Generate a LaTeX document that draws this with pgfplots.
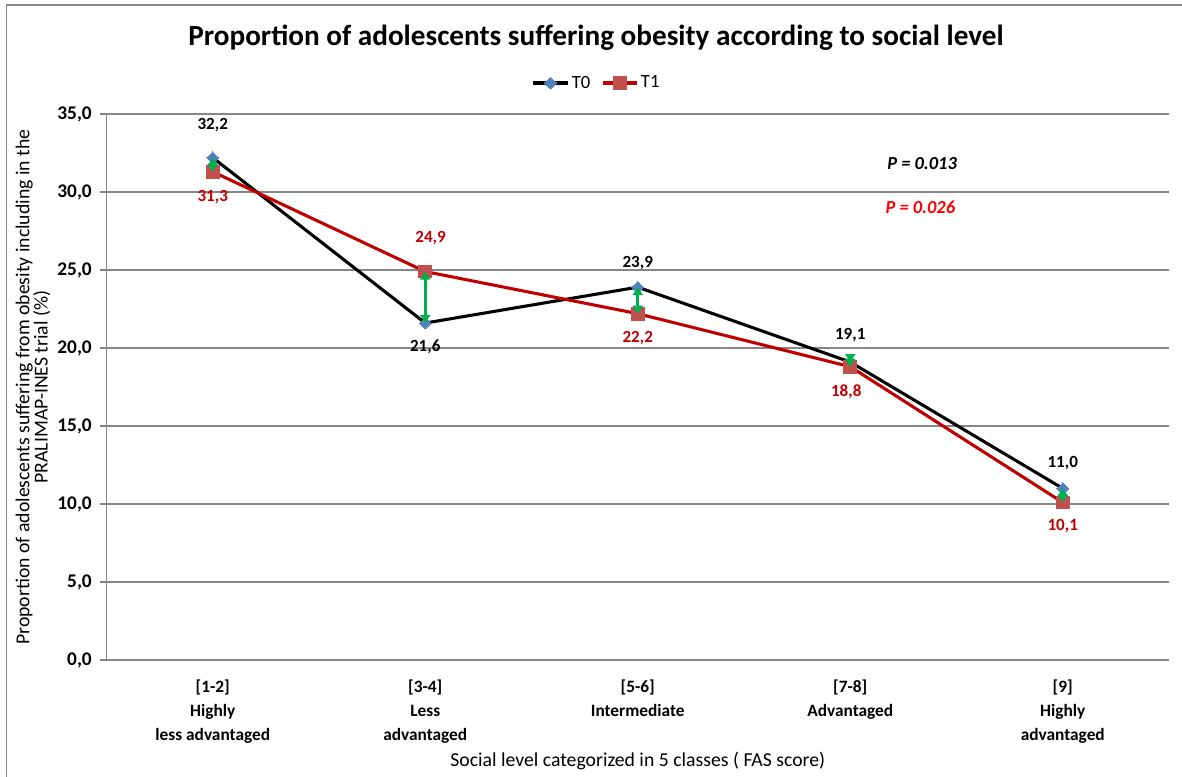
\documentclass[border=0pt]{standalone}
\usepackage{fontspec}
\setmainfont{Carlito}
\usepackage{pgfplots}
\pgfplotsset{compat=1.18}
\usetikzlibrary{arrows.meta}
\definecolor{gridgray}{HTML}{868686}
\definecolor{tzero}{HTML}{4F81BD}
\definecolor{tone}{HTML}{C0504D}
\definecolor{darkred}{HTML}{C00000}
\definecolor{brightred}{HTML}{FF0000}
\definecolor{arrowgreen}{HTML}{00B050}
\tikzset{garrow/.style={arrowgreen, line width=2pt, {Triangle[length=6pt,width=7.5pt]}-{Triangle[length=6pt,width=7.5pt]}},
  lb/.style={font=\bfseries\fontsize{12.8}{14}\selectfont, anchor=center}}

\pgfplotstableread{
x y
0 32.2
1 21.6
2 23.9
3 19.1
4 11.0
}\tzerodata
\pgfplotstableread{
x y
0 31.3
1 24.9
2 22.2
3 18.8
4 10.1
}\tonedata

\begin{document}
\begin{tikzpicture}
\useasboundingbox (0,0) rectangle (886.5pt,582pt);
\draw[gridgray, line width=1.1pt] (5pt,-2pt) -- (5pt,578.25pt) -- (890pt,578.25pt);
\node[font=\bfseries\fontsize{21.9}{25}\selectfont, anchor=center] at (447pt,553.5pt)
  {Proportion of adolescents suffering obesity according to social level};
\begin{axis}[
  at={(79.875pt,87pt)}, anchor=south west,
  scale only axis, width=796.875pt, height=409.5pt,
  xmin=-0.5, xmax=4.5, ymin=0, ymax=35,
  axis x line*=bottom, axis y line*=left,
  axis line style={gridgray, line width=1.1pt, -},
  xtick={0,1,2,3,4},
  xticklabels={{[1-2]\\Highly\\less advantaged},{[3-4]\\Less\\advantaged},{[5-6]\\Intermediate},{[7-8]\\Advantaged},{[9]\\Highly\\advantaged}},
  xtick style={draw=none},
  xticklabel style={align=center, font=\bfseries\fontsize{13}{18}\selectfont, anchor=north, yshift=-7pt},
  ytick={0,5,...,35},
  tick align=outside,
  ytick style={gridgray, line width=1.1pt},
  major tick length=4.5pt,
  yticklabel style={font=\bfseries\fontsize{14.5}{16}\selectfont, xshift=-3pt},
  /pgf/number format/.cd, fixed, fixed zerofill, precision=1, use comma, assume math mode=true,
  /pgfplots/.cd,
  ymajorgrids, grid style={gridgray, line width=1.1pt},
  ylabel={Proportion of adolescents suffering from obesity including in the\\PRALIMAP-INES trial (\%)},
  ylabel style={at={(axis description cs:-0.0692,0.5)}, anchor=center, align=center, font=\fontsize{14.8}{13.8}\selectfont},
  xlabel={Social level categorized in 5 classes ( FAS score)},
  xlabel style={at={(axis description cs:0.5,-0.185)}, anchor=center, font=\fontsize{14.8}{16}\selectfont},
  legend style={at={(0.4617,1.0568)}, anchor=center, draw=none, fill=none, legend columns=2,
    font=\fontsize{14}{16}\selectfont, /tikz/every even column/.append style={column sep=6pt}},
  legend image code/.code={\draw[mark repeat=2, mark phase=2, #1] plot coordinates {(0cm,0cm) (0.45cm,0cm) (0.9cm,0cm)};},
  clip=false,
]
\addplot[black, line width=2.3pt, mark=square*, mark size=3.1pt,
  mark options={fill=tzero, draw=tzero, rotate=45, line width=0pt}] table[x=x,y=y] {\tzerodata};
\addlegendentry{T0}
\addplot[darkred, line width=2.3pt, mark=square*, mark size=4.8pt,
  mark options={fill=tone, draw=tone, line width=0pt}] table[x=x,y=y] {\tonedata};
\addlegendentry{T1}

\coordinate (a0) at (axis cs:0,32.2); \coordinate (b0) at (axis cs:0,31.3);
\coordinate (a1) at (axis cs:1,21.6); \coordinate (b1) at (axis cs:1,24.9);
\coordinate (a2) at (axis cs:2,23.9); \coordinate (b2) at (axis cs:2,22.2);
\coordinate (a3) at (axis cs:3,19.1); \coordinate (b3) at (axis cs:3,18.8);
\coordinate (a4) at (axis cs:4,11.0); \coordinate (b4) at (axis cs:4,10.1);

\node[lb, black, yshift=24.75pt] at (axis cs:0,32.2) {32,2};
\node[lb, black, yshift=-18pt] at (axis cs:1,21.6) {21,6};
\node[lb, black, yshift=18pt] at (axis cs:2,23.9) {23,9};
\node[lb, black, yshift=20pt] at (axis cs:3,19.1) {19,1};
\node[lb, black, yshift=19pt] at (axis cs:4,11.0) {11,0};
\node[lb, darkred, yshift=-19pt] at (axis cs:0,31.3) {31,3};
\node[lb, darkred, yshift=25pt, xshift=4pt] at (axis cs:1,24.9) {24,9};
\node[lb, darkred, yshift=-18pt] at (axis cs:2,22.2) {22,2};
\node[lb, darkred, yshift=-19pt, xshift=-3pt] at (axis cs:3,18.8) {18,8};
\node[lb, darkred, yshift=-18pt] at (axis cs:4,10.1) {10,1};

\node[font=\bfseries\itshape\fontsize{13.8}{15}\selectfont, black] at (axis cs:3.338,31.8) {P = 0.013};
\node[font=\bfseries\itshape\fontsize{13.8}{15}\selectfont, brightred] at (axis cs:3.330,29.04) {P = 0.026};
\end{axis}
\draw[garrow] (a0) -- (b0);
\draw[garrow] (a1) -- (b1);
\draw[garrow] (a2) -- (b2);
\draw[garrow] (a3) -- (b3);
\draw[garrow] (a4) -- (b4);
\end{tikzpicture}
\end{document}
